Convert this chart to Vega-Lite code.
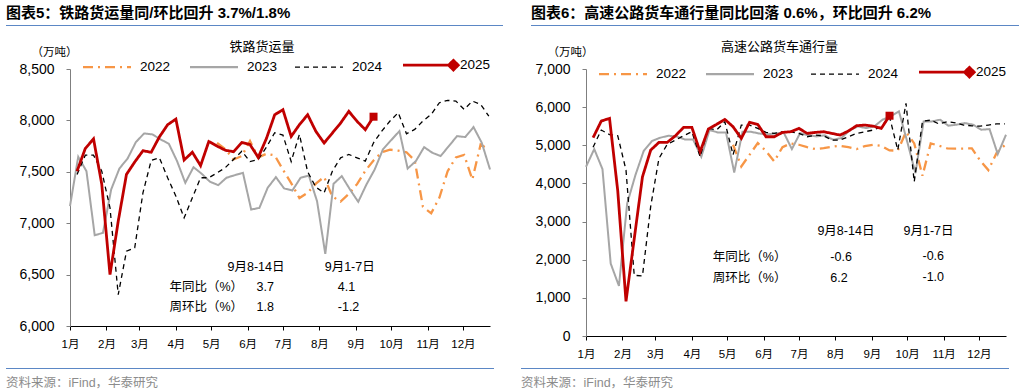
{
  "$schema": "https://vega.github.io/schema/vega-lite/v6.json",
  "padding": {"left": 6, "top": 5, "right": 5, "bottom": 2},
  "config": {
    "view": {"stroke": null},
    "font": "Liberation Sans, Noto Sans CJK SC",
    "axis": {"domainColor": "#000000", "tickColor": "#000000", "labelColor": "#000000", "grid": false, "tickSize": 4, "labelFont": "Liberation Sans, Noto Sans CJK SC", "titleFont": "Noto Sans CJK SC", "titleFontWeight": "normal", "titleColor": "#000000"}
  },
  "datasets": {
    "rail": [
      {"year":"2022","day":125,"value":7782},{"year":"2022","day":132,"value":7720},{"year":"2022","day":139,"value":7620},{"year":"2022","day":146,"value":7653},{"year":"2022","day":153,"value":7799},{"year":"2022","day":160,"value":7640},{"year":"2022","day":167,"value":7675},{"year":"2022","day":174,"value":7660},{"year":"2022","day":181,"value":7520},{"year":"2022","day":188,"value":7390},{"year":"2022","day":195,"value":7245},{"year":"2022","day":202,"value":7295},{"year":"2022","day":209,"value":7385},{"year":"2022","day":216,"value":7450},{"year":"2022","day":223,"value":7260},{"year":"2022","day":230,"value":7210},{"year":"2022","day":237,"value":7285},{"year":"2022","day":244,"value":7380},{"year":"2022","day":251,"value":7510},{"year":"2022","day":258,"value":7610},{"year":"2022","day":265,"value":7690},{"year":"2022","day":272,"value":7715},{"year":"2022","day":279,"value":7706},{"year":"2022","day":286,"value":7690},{"year":"2022","day":293,"value":7610},{"year":"2022","day":300,"value":7160},{"year":"2022","day":307,"value":7096},{"year":"2022","day":314,"value":7250},{"year":"2022","day":321,"value":7506},{"year":"2022","day":328,"value":7640},{"year":"2022","day":335,"value":7665},{"year":"2022","day":342,"value":7425},{"year":"2022","day":349,"value":7765},{"year":"2022","day":356,"value":7720},
      {"year":"2023","day":0,"value":7166},{"year":"2023","day":7,"value":7646},{"year":"2023","day":14,"value":7506},{"year":"2023","day":21,"value":6883},{"year":"2023","day":28,"value":6906},{"year":"2023","day":35,"value":7328},{"year":"2023","day":42,"value":7532},{"year":"2023","day":49,"value":7630},{"year":"2023","day":56,"value":7789},{"year":"2023","day":63,"value":7873},{"year":"2023","day":70,"value":7864},{"year":"2023","day":77,"value":7815},{"year":"2023","day":84,"value":7773},{"year":"2023","day":91,"value":7604},{"year":"2023","day":98,"value":7393},{"year":"2023","day":105,"value":7545},{"year":"2023","day":112,"value":7480},{"year":"2023","day":119,"value":7403},{"year":"2023","day":126,"value":7370},{"year":"2023","day":133,"value":7442},{"year":"2023","day":140,"value":7467},{"year":"2023","day":147,"value":7490},{"year":"2023","day":154,"value":7133},{"year":"2023","day":161,"value":7149},{"year":"2023","day":168,"value":7344},{"year":"2023","day":175,"value":7448},{"year":"2023","day":182,"value":7338},{"year":"2023","day":189,"value":7318},{"year":"2023","day":196,"value":7442},{"year":"2023","day":203,"value":7464},{"year":"2023","day":210,"value":7214},{"year":"2023","day":217,"value":6701},{"year":"2023","day":224,"value":7383},{"year":"2023","day":231,"value":7458},{"year":"2023","day":238,"value":7328},{"year":"2023","day":245,"value":7208},{"year":"2023","day":252,"value":7377},{"year":"2023","day":259,"value":7523},{"year":"2023","day":266,"value":7718},{"year":"2023","day":273,"value":7808},{"year":"2023","day":280,"value":7896},{"year":"2023","day":287,"value":7532},{"year":"2023","day":294,"value":7604},{"year":"2023","day":301,"value":7740},{"year":"2023","day":308,"value":7685},{"year":"2023","day":315,"value":7653},{"year":"2023","day":322,"value":7750},{"year":"2023","day":329,"value":7847},{"year":"2023","day":336,"value":7838},{"year":"2023","day":343,"value":7935},{"year":"2023","day":350,"value":7782},{"year":"2023","day":357,"value":7523},
      {"year":"2024","day":6,"value":7474},{"year":"2024","day":13,"value":7662},{"year":"2024","day":20,"value":7662},{"year":"2024","day":27,"value":7506},{"year":"2024","day":34,"value":7149},{"year":"2024","day":41,"value":6305},{"year":"2024","day":48,"value":6727},{"year":"2024","day":55,"value":6760},{"year":"2024","day":62,"value":7295},{"year":"2024","day":69,"value":7610},{"year":"2024","day":76,"value":7636},{"year":"2024","day":83,"value":7442},{"year":"2024","day":90,"value":7263},{"year":"2024","day":97,"value":7052},{"year":"2024","day":104,"value":7247},{"year":"2024","day":111,"value":7442},{"year":"2024","day":118,"value":7442},{"year":"2024","day":125,"value":7490},{"year":"2024","day":132,"value":7540},{"year":"2024","day":139,"value":7620},{"year":"2024","day":146,"value":7700},{"year":"2024","day":153,"value":7600},{"year":"2024","day":160,"value":7620},{"year":"2024","day":167,"value":7740},{"year":"2024","day":174,"value":7880},{"year":"2024","day":181,"value":7857},{"year":"2024","day":188,"value":7600},{"year":"2024","day":195,"value":7864},{"year":"2024","day":202,"value":7500},{"year":"2024","day":209,"value":7350},{"year":"2024","day":216,"value":7295},{"year":"2024","day":223,"value":7506},{"year":"2024","day":230,"value":7636},{"year":"2024","day":237,"value":7669},{"year":"2024","day":244,"value":7636},{"year":"2024","day":251,"value":7604},{"year":"2024","day":258,"value":7782},{"year":"2024","day":265,"value":7896},{"year":"2024","day":272,"value":7994},{"year":"2024","day":279,"value":8075},{"year":"2024","day":286,"value":7870},{"year":"2024","day":293,"value":7912},{"year":"2024","day":300,"value":7994},{"year":"2024","day":307,"value":8058},{"year":"2024","day":314,"value":8172},{"year":"2024","day":321,"value":8195},{"year":"2024","day":328,"value":8188},{"year":"2024","day":335,"value":8107},{"year":"2024","day":342,"value":8188},{"year":"2024","day":349,"value":8156},{"year":"2024","day":356,"value":8042},
      {"year":"2025","day":6,"value":7506},{"year":"2025","day":13,"value":7727},{"year":"2025","day":20,"value":7820},{"year":"2025","day":27,"value":7380},{"year":"2025","day":34,"value":6500},{"year":"2025","day":41,"value":7020},{"year":"2025","day":48,"value":7475},{"year":"2025","day":55,"value":7595},{"year":"2025","day":62,"value":7705},{"year":"2025","day":69,"value":7690},{"year":"2025","day":76,"value":7840},{"year":"2025","day":83,"value":7958},{"year":"2025","day":90,"value":8013},{"year":"2025","day":97,"value":7615},{"year":"2025","day":104,"value":7690},{"year":"2025","day":111,"value":7560},{"year":"2025","day":118,"value":7795},{"year":"2025","day":125,"value":7750},{"year":"2025","day":132,"value":7710},{"year":"2025","day":139,"value":7695},{"year":"2025","day":146,"value":7785},{"year":"2025","day":153,"value":7765},{"year":"2025","day":160,"value":7640},{"year":"2025","day":167,"value":7825},{"year":"2025","day":174,"value":8055},{"year":"2025","day":181,"value":8104},{"year":"2025","day":188,"value":7844},{"year":"2025","day":195,"value":7958},{"year":"2025","day":202,"value":8055},{"year":"2025","day":209,"value":7893},{"year":"2025","day":216,"value":7780},{"year":"2025","day":223,"value":7877},{"year":"2025","day":230,"value":7974},{"year":"2025","day":237,"value":8088},{"year":"2025","day":244,"value":7991},{"year":"2025","day":251,"value":7910},{"year":"2025","day":258,"value":8036}
    ],
    "road": [
      {"year":"2022","day":125,"value":5014},{"year":"2022","day":132,"value":4445},{"year":"2022","day":139,"value":4750},{"year":"2022","day":146,"value":5058},{"year":"2022","day":153,"value":4850},{"year":"2022","day":160,"value":4576},{"year":"2022","day":167,"value":4953},{"year":"2022","day":174,"value":5049},{"year":"2022","day":181,"value":5014},{"year":"2022","day":188,"value":4950},{"year":"2022","day":195,"value":4900},{"year":"2022","day":202,"value":4926},{"year":"2022","day":209,"value":4960},{"year":"2022","day":216,"value":4988},{"year":"2022","day":223,"value":4950},{"year":"2022","day":230,"value":4900},{"year":"2022","day":237,"value":4980},{"year":"2022","day":244,"value":5014},{"year":"2022","day":251,"value":4988},{"year":"2022","day":258,"value":4865},{"year":"2022","day":265,"value":4860},{"year":"2022","day":272,"value":5350},{"year":"2022","day":279,"value":5050},{"year":"2022","day":286,"value":4200},{"year":"2022","day":293,"value":5050},{"year":"2022","day":300,"value":4990},{"year":"2022","day":307,"value":4920},{"year":"2022","day":314,"value":4910},{"year":"2022","day":321,"value":4915},{"year":"2022","day":328,"value":4918},{"year":"2022","day":335,"value":4600},{"year":"2022","day":342,"value":4349},{"year":"2022","day":349,"value":4800},{"year":"2022","day":356,"value":5005},
      {"year":"2023","day":0,"value":4436},{"year":"2023","day":7,"value":4900},{"year":"2023","day":14,"value":4375},{"year":"2023","day":21,"value":1899},{"year":"2023","day":28,"value":1313},{"year":"2023","day":35,"value":3474},{"year":"2023","day":42,"value":4218},{"year":"2023","day":49,"value":4848},{"year":"2023","day":56,"value":5110},{"year":"2023","day":63,"value":5198},{"year":"2023","day":70,"value":5250},{"year":"2023","day":77,"value":5230},{"year":"2023","day":84,"value":5154},{"year":"2023","day":91,"value":5154},{"year":"2023","day":98,"value":4699},{"year":"2023","day":105,"value":5399},{"year":"2023","day":112,"value":5338},{"year":"2023","day":119,"value":5338},{"year":"2023","day":126,"value":4288},{"year":"2023","day":133,"value":5355},{"year":"2023","day":140,"value":5355},{"year":"2023","day":147,"value":5311},{"year":"2023","day":154,"value":5285},{"year":"2023","day":161,"value":5311},{"year":"2023","day":168,"value":5338},{"year":"2023","day":175,"value":4900},{"year":"2023","day":182,"value":5320},{"year":"2023","day":189,"value":5260},{"year":"2023","day":196,"value":5233},{"year":"2023","day":203,"value":5260},{"year":"2023","day":210,"value":5145},{"year":"2023","day":217,"value":5189},{"year":"2023","day":224,"value":5390},{"year":"2023","day":231,"value":5495},{"year":"2023","day":238,"value":5451},{"year":"2023","day":245,"value":5495},{"year":"2023","day":252,"value":5670},{"year":"2023","day":259,"value":5758},{"year":"2023","day":266,"value":5889},{"year":"2023","day":273,"value":5100},{"year":"2023","day":280,"value":4270},{"year":"2023","day":287,"value":5626},{"year":"2023","day":294,"value":5626},{"year":"2023","day":301,"value":5670},{"year":"2023","day":308,"value":5513},{"year":"2023","day":315,"value":5539},{"year":"2023","day":322,"value":5583},{"year":"2023","day":329,"value":5539},{"year":"2023","day":336,"value":5408},{"year":"2023","day":343,"value":5425},{"year":"2023","day":350,"value":4769},{"year":"2023","day":357,"value":5276},
      {"year":"2024","day":6,"value":4950},{"year":"2024","day":13,"value":5400},{"year":"2024","day":20,"value":5280},{"year":"2024","day":27,"value":5250},{"year":"2024","day":34,"value":4350},{"year":"2024","day":41,"value":1590},{"year":"2024","day":48,"value":1575},{"year":"2024","day":55,"value":3400},{"year":"2024","day":62,"value":4655},{"year":"2024","day":69,"value":5022},{"year":"2024","day":76,"value":5136},{"year":"2024","day":83,"value":5250},{"year":"2024","day":90,"value":5355},{"year":"2024","day":97,"value":4699},{"year":"2024","day":104,"value":5443},{"year":"2024","day":111,"value":5399},{"year":"2024","day":118,"value":5618},{"year":"2024","day":125,"value":4750},{"year":"2024","day":132,"value":5530},{"year":"2024","day":139,"value":5530},{"year":"2024","day":146,"value":5443},{"year":"2024","day":153,"value":5338},{"year":"2024","day":160,"value":5311},{"year":"2024","day":167,"value":5355},{"year":"2024","day":174,"value":5355},{"year":"2024","day":181,"value":5311},{"year":"2024","day":188,"value":5224},{"year":"2024","day":195,"value":5268},{"year":"2024","day":202,"value":5250},{"year":"2024","day":209,"value":5136},{"year":"2024","day":216,"value":5136},{"year":"2024","day":223,"value":5224},{"year":"2024","day":230,"value":5311},{"year":"2024","day":237,"value":5355},{"year":"2024","day":244,"value":5399},{"year":"2024","day":251,"value":5486},{"year":"2024","day":258,"value":5750},{"year":"2024","day":265,"value":4874},{"year":"2024","day":272,"value":6099},{"year":"2024","day":279,"value":4043},{"year":"2024","day":286,"value":5630},{"year":"2024","day":293,"value":5660},{"year":"2024","day":300,"value":5560},{"year":"2024","day":307,"value":5620},{"year":"2024","day":314,"value":5590},{"year":"2024","day":321,"value":5530},{"year":"2024","day":328,"value":5510},{"year":"2024","day":335,"value":5500},{"year":"2024","day":342,"value":5530},{"year":"2024","day":349,"value":5560},{"year":"2024","day":356,"value":5560},
      {"year":"2025","day":6,"value":5198},{"year":"2025","day":13,"value":5635},{"year":"2025","day":20,"value":5705},{"year":"2025","day":27,"value":3800},{"year":"2025","day":34,"value":910},{"year":"2025","day":41,"value":2550},{"year":"2025","day":48,"value":4174},{"year":"2025","day":55,"value":4874},{"year":"2025","day":62,"value":5075},{"year":"2025","day":69,"value":5075},{"year":"2025","day":76,"value":5250},{"year":"2025","day":83,"value":5469},{"year":"2025","day":90,"value":5469},{"year":"2025","day":97,"value":4830},{"year":"2025","day":104,"value":5425},{"year":"2025","day":111,"value":5548},{"year":"2025","day":118,"value":5679},{"year":"2025","day":125,"value":5486},{"year":"2025","day":132,"value":5180},{"year":"2025","day":139,"value":5600},{"year":"2025","day":146,"value":5548},{"year":"2025","day":153,"value":5224},{"year":"2025","day":160,"value":5224},{"year":"2025","day":167,"value":5338},{"year":"2025","day":174,"value":5355},{"year":"2025","day":181,"value":5443},{"year":"2025","day":188,"value":5311},{"year":"2025","day":195,"value":5338},{"year":"2025","day":202,"value":5355},{"year":"2025","day":209,"value":5311},{"year":"2025","day":216,"value":5268},{"year":"2025","day":223,"value":5373},{"year":"2025","day":230,"value":5513},{"year":"2025","day":237,"value":5530},{"year":"2025","day":244,"value":5504},{"year":"2025","day":251,"value":5443},{"year":"2025","day":258,"value":5775}
    ],
    "railNotes": [
      {"day":133.9,"value":6574,"label":"9月8-14日"},
      {"day":216.5,"value":6574,"label":"9月1-7日"},
      {"day":84.5,"value":6379,"label":"年同比（%）"},
      {"day":158.6,"value":6379,"label":"3.7"},
      {"day":227.6,"value":6379,"label":"4.1"},
      {"day":84.5,"value":6180,"label":"周环比（%）"},
      {"day":158.6,"value":6180,"label":"1.8"},
      {"day":227.6,"value":6180,"label":"-1.2"}
    ],
    "roadNotes": [
      {"day":196.7,"value":2764,"label":"9月8-14日"},
      {"day":269.9,"value":2764,"label":"9月1-7日"},
      {"day":107.8,"value":2082,"label":"年同比（%）"},
      {"day":207.7,"value":2082,"label":"-0.6"},
      {"day":286.0,"value":2110,"label":"-0.6"},
      {"day":107.8,"value":1522,"label":"周环比（%）"},
      {"day":207.7,"value":1522,"label":"6.2"},
      {"day":286.0,"value":1549,"label":"-1.0"}
    ]
  },
  "resolve": {"scale": {"color": "independent", "strokeDash": "independent"}, "legend": {"color": "independent", "strokeDash": "independent"}},
  "spacing": 2,
  "vconcat": [
    {
      "spacing": 28,
      "resolve": {"scale": {"color": "independent", "strokeDash": "independent"}, "legend": {"color": "independent", "strokeDash": "independent"}},
      "hconcat": [
        {
          "spacing": 10,
          "resolve": {"scale": {"color": "independent", "strokeDash": "independent"}, "legend": {"color": "independent", "strokeDash": "independent"}},
          "vconcat": [
            {
              "width": 497, "height": 1,
              "view": {"fill": "#5B87C5", "stroke": null},
              "title": {"text": "图表5：铁路货运量同/环比回升 3.7%/1.8%", "anchor": "start", "fontSize": 15, "fontWeight": "bold", "offset": -1, "color": "#000000", "font": "Liberation Sans, Noto Sans CJK SC"},
              "data": {"values": [{}]},
              "mark": {"type": "text", "text": ""}
            },
            {
              "width": 484, "height": 257,
              "title": {"text": "铁路货运量", "fontSize": 13, "fontWeight": "normal", "font": "Noto Sans CJK SC", "frame": "group", "anchor": "middle", "dx": 14, "offset": -8, "color": "#000000"},
              "encoding": {
                "x": {"field": "day", "type": "quantitative", "scale": {"domain": [0, 357], "range": [64, 484], "nice": false, "zero": false},
                  "axis": {"values": [0,31,59,90,120,151,181,212,243,273,304,334], "labelExpr": "(indexof([0,31,59,90,120,151,181,212,243,273,304,334], datum.value) + 1) + '月'", "labelFontSize": 11.5, "labelPadding": 8, "tickSize": 4, "title": null, "labelFlush": false, "labelOverlap": false}},
                "y": {"field": "value", "type": "quantitative", "scale": {"domain": [6000, 8500], "nice": false, "zero": false},
                  "axis": {"values": [6000,6500,7000,7500,8000,8500], "format": ",d", "offset": -64, "labelFontSize": 14, "labelPadding": 12, "tickSize": 4, "domainColor": "#7F7F7F", "tickColor": "#7F7F7F", "title": "（万吨）", "titleAngle": 0, "titleX": -16, "titleY": -17, "titleAlign": "center", "titleBaseline": "middle", "titleFontSize": 11.5}}
              },
              "layer": [
                {"data": {"name": "rail"}, "transform": [{"filter": "datum.year === '2022'"}], "mark": {"type": "line", "strokeWidth": 2.3},
                  "encoding": {
                    "color": {"field": "year", "type": "nominal", "scale": {"domain": ["2022","2023","2024","2025"], "range": ["#F79646","#A6A6A6","#000000","#C00000"]},
                      "legend": {"orient": "none", "legendX": 77, "legendY": -11, "direction": "horizontal", "title": null, "symbolType": "stroke", "symbolSize": 2304, "symbolStrokeWidth": 2, "labelFontSize": 13.5, "labelOffset": 8, "columnPadding": 14, "padding": 0,
                        "encode": {
                          "symbols": {"update": {"x": {"value": 24}, "size": {"value": 2304}, "shape": {"signal": "datum.value === '2025' ? 'M-1,0L1.1,0M0.9,0L1.1,-0.2L1.3,0L1.1,0.2Z' : 'stroke'"}, "fill": {"signal": "datum.value === '2025' ? '#C00000' : 'transparent'"}, "strokeWidth": {"signal": "datum.value === '2025' ? 2.8 : datum.value === '2024' ? 1.3 : 2.3"}}},
                          "labels": {"update": {"x": {"value": 57}}}
                        }}},
                    "strokeDash": {"field": "year", "type": "nominal", "scale": {"domain": ["2022","2023","2024","2025"], "range": [[10,5,2,5],[1,0],[5,4],[1,0]]},
                      "legend": {"orient": "none", "legendX": 77, "legendY": -11, "direction": "horizontal", "title": null, "symbolType": "stroke", "symbolSize": 2304, "symbolStrokeWidth": 2, "labelFontSize": 13.5, "labelOffset": 8, "columnPadding": 14, "padding": 0}}
                  }},
                {"data": {"name": "rail"}, "transform": [{"filter": "datum.year === '2023'"}], "mark": {"type": "line", "strokeWidth": 2},
                  "encoding": {"color": {"field": "year", "type": "nominal"}, "strokeDash": {"field": "year", "type": "nominal"}}},
                {"data": {"name": "rail"}, "transform": [{"filter": "datum.year === '2024'"}], "mark": {"type": "line", "strokeWidth": 1.3},
                  "encoding": {"color": {"field": "year", "type": "nominal"}, "strokeDash": {"field": "year", "type": "nominal"}}},
                {"data": {"name": "rail"}, "transform": [{"filter": "datum.year === '2025'"}], "mark": {"type": "line", "strokeWidth": 2.8},
                  "encoding": {"color": {"field": "year", "type": "nominal"}, "strokeDash": {"field": "year", "type": "nominal"}}},
                {"data": {"name": "rail"}, "transform": [{"filter": "datum.year === '2025' && datum.day === 258"}], "mark": {"type": "point", "shape": "square", "filled": true, "size": 64, "color": "#C00000", "opacity": 1}},
                {"data": {"name": "railNotes"}, "mark": {"type": "text", "align": "left", "baseline": "middle", "fontSize": 12.5, "color": "#000000"}, "encoding": {"text": {"field": "label"}}}
              ]
            }
          ]
        },
        {
          "spacing": 10,
          "resolve": {"scale": {"color": "independent", "strokeDash": "independent"}, "legend": {"color": "independent", "strokeDash": "independent"}},
          "vconcat": [
            {
              "width": 488, "height": 1,
              "view": {"fill": "#5B87C5", "stroke": null},
              "title": {"text": "图表6：高速公路货车通行量同比回落 0.6%，环比回升 6.2%", "anchor": "start", "fontSize": 15, "fontWeight": "bold", "offset": -1, "color": "#000000", "font": "Liberation Sans, Noto Sans CJK SC"},
              "data": {"values": [{}]},
              "mark": {"type": "text", "text": ""}
            },
            {
              "width": 475, "height": 267,
              "title": {"text": "高速公路货车通行量", "fontSize": 13, "fontWeight": "normal", "font": "Noto Sans CJK SC", "frame": "group", "anchor": "middle", "dx": 11, "offset": -8, "color": "#000000"},
              "encoding": {
                "x": {"field": "day", "type": "quantitative", "scale": {"domain": [0, 357], "range": [55, 475], "nice": false, "zero": false},
                  "axis": {"values": [0,31,59,90,120,151,181,212,243,273,304,334], "labelExpr": "(indexof([0,31,59,90,120,151,181,212,243,273,304,334], datum.value) + 1) + '月'", "labelFontSize": 11.5, "labelPadding": 8, "tickSize": 4, "title": null, "labelFlush": false, "labelOverlap": false}},
                "y": {"field": "value", "type": "quantitative", "scale": {"domain": [0, 7000], "nice": false, "zero": false},
                  "axis": {"values": [0,1000,2000,3000,4000,5000,6000,7000], "format": ",d", "offset": -55, "labelFontSize": 14, "labelPadding": 12, "tickSize": 4, "domainColor": "#7F7F7F", "tickColor": "#7F7F7F", "title": "（万吨）", "titleAngle": 0, "titleX": -16, "titleY": -17, "titleAlign": "center", "titleBaseline": "middle", "titleFontSize": 11.5}}
              },
              "layer": [
                {"data": {"name": "road"}, "transform": [{"filter": "datum.year === '2022'"}], "mark": {"type": "line", "strokeWidth": 2.3},
                  "encoding": {
                    "color": {"field": "year", "type": "nominal", "scale": {"domain": ["2022","2023","2024","2025"], "range": ["#F79646","#A6A6A6","#000000","#C00000"]},
                      "legend": {"orient": "none", "legendX": 68, "legendY": -4, "direction": "horizontal", "title": null, "symbolType": "stroke", "symbolSize": 2304, "symbolStrokeWidth": 2, "labelFontSize": 13.5, "labelOffset": 8, "columnPadding": 14, "padding": 0,
                        "encode": {
                          "symbols": {"update": {"x": {"value": 24}, "size": {"value": 2304}, "shape": {"signal": "datum.value === '2025' ? 'M-1,0L1.1,0M0.9,0L1.1,-0.2L1.3,0L1.1,0.2Z' : 'stroke'"}, "fill": {"signal": "datum.value === '2025' ? '#C00000' : 'transparent'"}, "strokeWidth": {"signal": "datum.value === '2025' ? 2.8 : datum.value === '2024' ? 1.3 : 2.3"}}},
                          "labels": {"update": {"x": {"value": 57}}}
                        }}},
                    "strokeDash": {"field": "year", "type": "nominal", "scale": {"domain": ["2022","2023","2024","2025"], "range": [[10,5,2,5],[1,0],[5,4],[1,0]]},
                      "legend": {"orient": "none", "legendX": 68, "legendY": -4, "direction": "horizontal", "title": null, "symbolType": "stroke", "symbolSize": 2304, "symbolStrokeWidth": 2, "labelFontSize": 13.5, "labelOffset": 8, "columnPadding": 14, "padding": 0}}
                  }},
                {"data": {"name": "road"}, "transform": [{"filter": "datum.year === '2023'"}], "mark": {"type": "line", "strokeWidth": 2},
                  "encoding": {"color": {"field": "year", "type": "nominal"}, "strokeDash": {"field": "year", "type": "nominal"}}},
                {"data": {"name": "road"}, "transform": [{"filter": "datum.year === '2024'"}], "mark": {"type": "line", "strokeWidth": 1.3},
                  "encoding": {"color": {"field": "year", "type": "nominal"}, "strokeDash": {"field": "year", "type": "nominal"}}},
                {"data": {"name": "road"}, "transform": [{"filter": "datum.year === '2025'"}], "mark": {"type": "line", "strokeWidth": 2.8},
                  "encoding": {"color": {"field": "year", "type": "nominal"}, "strokeDash": {"field": "year", "type": "nominal"}}},
                {"data": {"name": "road"}, "transform": [{"filter": "datum.year === '2025' && datum.day === 258"}], "mark": {"type": "point", "shape": "square", "filled": true, "size": 64, "color": "#C00000", "opacity": 1}},
                {"data": {"name": "roadNotes"}, "mark": {"type": "text", "align": "left", "baseline": "middle", "fontSize": 12.5, "color": "#000000"}, "encoding": {"text": {"field": "label"}}}
              ]
            }
          ]
        }
      ]
    },
    {
      "spacing": 27,
      "hconcat": [
        {
          "width": 488, "height": 1,
          "view": {"fill": "#5B87C5", "stroke": null},
          "title": {"text": "资料来源：iFind，华泰研究", "orient": "bottom", "anchor": "start", "fontSize": 12.5, "fontWeight": "normal", "color": "#8C8C8C", "offset": 3, "font": "Liberation Sans, Noto Sans CJK SC"},
          "data": {"values": [{}]},
          "mark": {"type": "text", "text": ""}
        },
        {
          "width": 488, "height": 1,
          "view": {"fill": "#5B87C5", "stroke": null},
          "title": {"text": "资料来源：iFind，华泰研究", "orient": "bottom", "anchor": "start", "fontSize": 12.5, "fontWeight": "normal", "color": "#8C8C8C", "offset": 3, "font": "Liberation Sans, Noto Sans CJK SC"},
          "data": {"values": [{}]},
          "mark": {"type": "text", "text": ""}
        }
      ]
    }
  ]
}
